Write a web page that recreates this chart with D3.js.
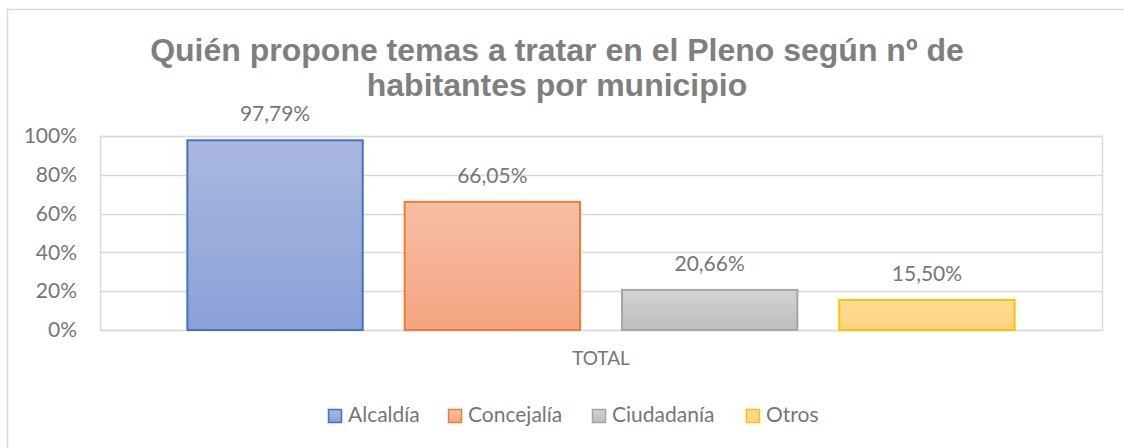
<!DOCTYPE html>
<html>
<head>
<meta charset="utf-8">
<script src="https://cdn.jsdelivr.net/npm/d3@7"></script>
<style>
  html, body { margin: 0; padding: 0; background: #fff; }
  svg { display: block; }
</style>
</head>
<body>
<svg id="chart" width="1124" height="448"></svg>
<script>
const categories = ["TOTAL"];
const series = ["Alcaldía", "Concejalía", "Ciudadanía", "Otros"];
const values = [0.9779, 0.6605, 0.2066, 0.1550];
const valueLabels = ["97,79%", "66,05%", "20,66%", "15,50%"];
const yTicks = [0, 0.2, 0.4, 0.6, 0.8, 1.0];
const yTickLabels = ["0%", "20%", "40%", "60%", "80%", "100%"];
const titleLines = ["Quién propone temas a tratar en el Pleno según nº de", "habitantes por municipio"];

const strokeColors = ["#4472c4", "#ed7d31", "#a5a5a5", "#ffc000"];
const gradTop = ["#aab8df", "#f7bea6", "#d3d3d3", "#ffdc96"];
const gradBottom = ["#8aa1d7", "#f5a481", "#bdbdbd", "#ffd37f"];

const svg = d3.select("#chart");
const W = 1124, H = 448;
const plot = { left: 100, right: 1102, top: 136, bottom: 330 };
const textColor = "#767676";
const font = "Lato, 'Open Sans', sans-serif";

svg.append("rect").attr("width", W).attr("height", H).attr("fill", "#fff");
// chart frame (right and bottom edges fall outside the picture)
svg.append("rect").attr("x", 7.5).attr("y", 9.5).attr("width", 1130).attr("height", 460)
  .attr("fill", "none").attr("stroke", "#d9d9d9").attr("stroke-width", 1.5);

const defs = svg.append("defs");
series.forEach((s, i) => {
  const g = defs.append("linearGradient").attr("id", "grad" + i)
    .attr("x1", 0).attr("y1", 0).attr("x2", 0).attr("y2", 1);
  g.append("stop").attr("offset", "0%").attr("stop-color", gradTop[i]);
  g.append("stop").attr("offset", "100%").attr("stop-color", gradBottom[i]);
});

const y = d3.scaleLinear().domain([0, 1]).range([plot.bottom, plot.top]);
const xCat = d3.scaleBand().domain(categories).range([plot.left, plot.right]);
const x = d3.scaleBand().domain(series).range([plot.left, plot.right])
  .paddingInner(0.193).paddingOuter(0.402);

// gridlines
svg.append("g").selectAll("line").data(yTicks).join("line")
  .attr("x1", plot.left).attr("x2", plot.right)
  .attr("y1", d => Math.round(y(d)) + 0.5).attr("y2", d => Math.round(y(d)) + 0.5)
  .attr("stroke", "#d9d9d9").attr("stroke-width", 1.5);
// plot border
svg.append("rect").attr("x", plot.left + 0.5).attr("y", Math.round(y(1)) + 0.5)
  .attr("width", plot.right - plot.left).attr("height", Math.round(y(0)) - Math.round(y(1)))
  .attr("fill", "none").attr("stroke", "#d9d9d9").attr("stroke-width", 1.5);

// y axis labels
const yAxis = d3.axisLeft(y).tickValues(yTicks).tickFormat((d, i) => yTickLabels[i]).tickSize(0).tickPadding(23);
const yG = svg.append("g").attr("transform", `translate(${plot.left},0)`).call(yAxis);
yG.select(".domain").remove();
yG.selectAll("text").attr("fill", textColor).style("font-family", font).style("font-size", "21px");

// x axis label
const xAxis = d3.axisBottom(xCat).tickSize(0).tickPadding(22);
const xG = svg.append("g").attr("transform", `translate(0,${plot.bottom})`).call(xAxis);
xG.select(".domain").remove();
xG.selectAll("text").attr("fill", textColor).style("font-family", font).style("font-size", "19px");

// bars
svg.append("g").selectAll("rect").data(series).join("rect")
  .attr("x", d => x(d))
  .attr("y", (d, i) => y(values[i]))
  .attr("width", x.bandwidth())
  .attr("height", (d, i) => y(0) - y(values[i]))
  .attr("fill", (d, i) => `url(#grad${i})`)
  .attr("stroke", (d, i) => strokeColors[i])
  .attr("stroke-width", 2);

// value labels
svg.append("g").selectAll("text").data(series).join("text")
  .attr("x", d => x(d) + x.bandwidth() / 2)
  .attr("y", (d, i) => y(values[i]) - 19)
  .attr("text-anchor", "middle")
  .attr("fill", textColor).style("font-family", font).style("font-size", "21px")
  .text((d, i) => valueLabels[i]);

// title
svg.append("g").selectAll("text").data(titleLines).join("text")
  .attr("x", 557).attr("y", (d, i) => 61 + i * 35)
  .attr("text-anchor", "middle")
  .attr("fill", "#7f7f7f")
  .style("font-family", "'Liberation Sans', Arial, sans-serif")
  .style("font-weight", "bold").style("font-size", "32px")
  .text(d => d);

// legend
const legendX = [328, 448, 592, 746];
const lg = svg.append("g");
series.forEach((s, i) => {
  lg.append("rect").attr("x", legendX[i] + 0.5).attr("y", 409.5).attr("width", 13).attr("height", 13)
    .attr("fill", `url(#grad${i})`).attr("stroke", strokeColors[i]).attr("stroke-width", 1.5);
  lg.append("text").attr("x", legendX[i] + 20).attr("y", 422)
    .attr("fill", textColor).style("font-family", font).style("font-size", "21px")
    .text(s);
});
</script>
</body>
</html>
